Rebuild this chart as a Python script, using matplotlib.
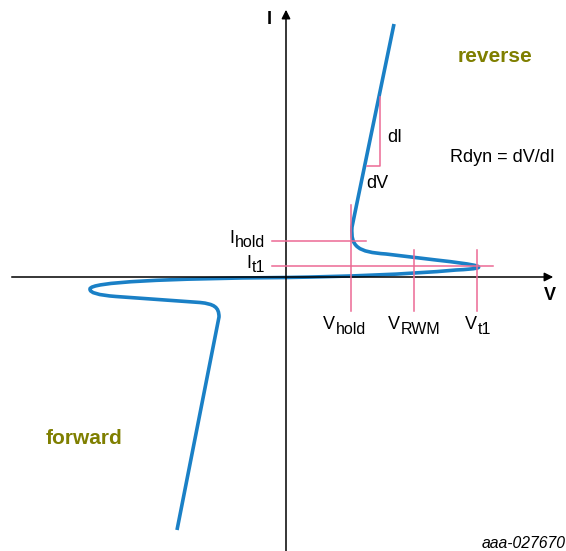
import matplotlib.pyplot as plt
from matplotlib.path import Path
from matplotlib.patches import PathPatch

plt.rcParams['font.family'] = ['Liberation Sans', 'DejaVu Sans']

# ─── I-V characteristic (V right, I up), vertices + bezier controls ──────────
curve_v = [108, 66, 64.5, 72, 100, 150, 190, 212, 170, 120, 60, 0,
           -120, -196, -196, -197, -170, -86, -72, -67, -67, -109]
curve_i = [253, 50, 30, 25, 23, 17, 12.5, 9, 7, 2.5, 0.5, -0.5,
           -1.5, -5, -12, -17.5, -19.5, -25.5, -27, -30, -40, -253]
M, L, C3, C4 = Path.MOVETO, Path.LINETO, Path.CURVE3, Path.CURVE4
curve_codes = [M, L, C4, C4, C4, L, C4, C4, C4, C4, C4, C4,
               C4, C4, C4, C3, C3, L, C4, C4, C4, L]

# marker levels
v_hold, v_rwm, v_t1 = 65, 128, 191
i_hold, i_t1 = 36, 11
v_marks = [v_hold, v_rwm, v_t1]
v_subs = ['hold', 'RWM', 't1']
i_marks = [i_hold, i_t1]
i_subs = ['hold', 't1']

# dV / dI triangle on the reverse branch
dv_x = [81, 94, 94]
dv_y = [111, 111, 180]

blue = '#1a80c6'
pink = '#ec6a94'
olive = '#7f7f00'

fig = plt.figure(figsize=(5.66, 5.51), dpi=100)
ax = fig.add_axes([0, 0, 1, 1])
ax.set_xlim(-286, 280)
ax.set_ylim(-274, 277)
ax.axis('off')

# axes with arrows
ax.plot([-274, 262], [0, 0], color='black', lw=1.1)
ax.plot([0, 0], [-274, 262], color='black', lw=1.1)
ax.annotate('', xy=(270, 0), xytext=(258, 0),
            arrowprops=dict(arrowstyle='-|>', color='black', lw=1.1,
                            mutation_scale=13))
ax.annotate('', xy=(0, 270), xytext=(0, 258),
            arrowprops=dict(arrowstyle='-|>', color='black', lw=1.1,
                            mutation_scale=13))
ax.text(-17, 258, 'I', fontsize=13, fontweight='bold', ha='center', va='center')
ax.text(264, -19, 'V', fontsize=13, fontweight='bold', ha='center', va='center')

# pink marker lines
ax.plot([v_hold, v_hold], [72, -34], color=pink, lw=1.1)
ax.plot([v_rwm, v_rwm], [27, -34], color=pink, lw=1.1)
ax.plot([v_t1, v_t1], [27, -34], color=pink, lw=1.1)
ax.plot([-14, 80], [i_hold, i_hold], color=pink, lw=1.1)
ax.plot([-14, 207], [i_t1, i_t1], color=pink, lw=1.1)
ax.plot(dv_x, dv_y, color=pink, lw=1.1)

# curve
path = Path(list(zip(curve_v, curve_i)), curve_codes)
ax.add_patch(PathPatch(path, facecolor='none', edgecolor=blue, lw=2.6,
                       capstyle='butt', joinstyle='round'))

fs = 13


def sub_label(x, y, main, sub, ha='left', drop=3):
    # main letter + slightly smaller, lowered subscript
    if ha == 'left':
        t = ax.text(x, y, main, fontsize=fs, ha='left', va='baseline')
        ax.annotate(sub, xy=(1, 0), xycoords=t, xytext=(0.5, -drop),
                    textcoords='offset points', fontsize=fs - 1.5,
                    ha='left', va='bottom')
    else:
        s = ax.text(x, y, sub, fontsize=fs - 1.5, ha='right', va='baseline')
        ax.annotate(main, xy=(0, 0), xycoords=s, xytext=(-0.5, drop),
                    textcoords='offset points', fontsize=fs,
                    ha='right', va='bottom')


v_label_left = [37, 102, 179]
for x, lab in zip(v_label_left, v_subs):
    sub_label(x, -52, 'V', lab, drop=3)
for y, lab in zip(i_marks, i_subs):
    sub_label(-21, y - 6, 'I', lab, ha='right', drop=2)

ax.text(109, 140, 'dI', fontsize=fs, ha='center', va='center')
ax.text(91, 94, 'dV', fontsize=fs, ha='center', va='center')
ax.text(216, 120, 'Rdyn = dV/dI', fontsize=fs, ha='center', va='center')
ax.text(209, 221, 'reverse', fontsize=15, fontweight='bold', color=olive,
        ha='center', va='center')
ax.text(-202, -162, 'forward', fontsize=15, fontweight='bold', color=olive,
        ha='center', va='center')
ax.text(280, -266, 'aaa-027670', fontsize=11.3, style='italic', ha='right',
        va='center')

fig.savefig('out.png', dpi=100)
